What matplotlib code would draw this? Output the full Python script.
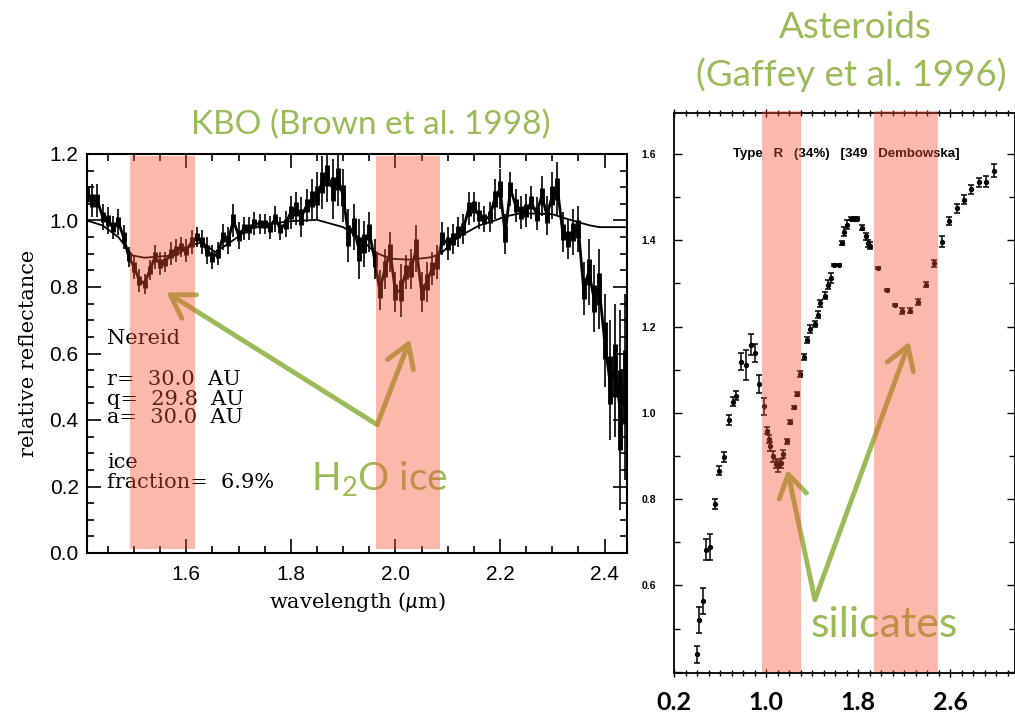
import numpy as np
import matplotlib.pyplot as plt
from matplotlib.ticker import MultipleLocator
from matplotlib.patches import Rectangle

plt.rcParams['mathtext.fontset'] = 'custom'
plt.rcParams['mathtext.rm'] = 'Lato'
plt.rcParams['mathtext.it'] = 'Lato:italic'

W, H = 1015, 715
GREEN = '#9bbb59'
BAND = '#f5502f'

# --- KBO spectrum (Nereid) ---
wl = np.round(np.arange(1.41, 2.445, 0.01), 2)  # uniform wavelength grid
refl = [1.08, 1.06, 1.06, 1.01, 1.00, 0.98, 0.995, 0.95, 0.89, 0.86,
        0.82, 0.81, 0.85, 0.89, 0.87, 0.875, 0.90, 0.91, 0.92, 0.91,
        0.935, 0.95, 0.935, 0.91, 0.89, 0.90, 0.95, 0.94, 1.00, 0.955,
        0.975, 0.975, 0.99, 0.99, 0.99, 0.98, 1.005, 0.975, 0.99, 1.025,
        1.035, 1.01, 1.045, 1.065, 1.075, 1.115, 1.135, 1.095, 1.125, 1.075,
        0.955, 0.98, 0.915, 0.93, 0.965, 0.885, 0.79, 0.855, 0.905, 0.785,
        0.79, 0.845, 0.855, 0.915, 0.785, 0.815, 0.855, 0.875, 0.945, 0.93,
        0.945, 0.965, 0.975, 1.035, 1.04, 1.015, 1.005, 1.01, 1.065, 1.095,
        0.96, 1.095, 1.045, 1.025, 1.03, 1.055, 1.02, 1.075, 1.015, 1.075,
        1.095, 0.965, 0.945, 0.965, 0.975, 0.795, 0.845, 0.765, 0.795, 0.64,
        0.52, 0.55, 0.43, 0.50]
refl_err = [0.06, 0.05, 0.05, 0.04, 0.04, 0.035, 0.04, 0.035, 0.03, 0.035,
            0.035, 0.03, 0.03, 0.035, 0.035, 0.03, 0.035, 0.035, 0.03, 0.035,
            0.035, 0.03, 0.035, 0.04, 0.035, 0.035, 0.04, 0.04, 0.05, 0.04,
            0.035, 0.035, 0.035, 0.03, 0.03, 0.035, 0.04, 0.035, 0.04, 0.05,
            0.05, 0.06, 0.05, 0.06, 0.07, 0.08, 0.08, 0.09, 0.08, 0.08,
            0.08, 0.07, 0.09, 0.07, 0.06, 0.06, 0.06, 0.06, 0.06, 0.06,
            0.08, 0.05, 0.06, 0.07, 0.06, 0.06, 0.05, 0.05, 0.05, 0.05,
            0.045, 0.045, 0.045, 0.05, 0.045, 0.04, 0.04, 0.045, 0.06, 0.06,
            0.06, 0.05, 0.05, 0.05, 0.05, 0.05, 0.05, 0.06, 0.06, 0.07,
            0.08, 0.06, 0.06, 0.07, 0.07, 0.08, 0.10, 0.10, 0.12, 0.14,
            0.18, 0.20, 0.30, 0.28]

# model fit curve
model_wl = [1.41, 1.44, 1.47, 1.497, 1.52, 1.55, 1.58, 1.61, 1.63, 1.655,
            1.68, 1.72, 1.76, 1.80, 1.85, 1.90, 1.93, 1.96, 1.99, 2.03,
            2.07, 2.09, 2.12, 2.16, 2.19, 2.21, 2.24, 2.30, 2.33, 2.37,
            2.39, 2.443]
model_refl = [1.000, 0.985, 0.950, 0.895, 0.888, 0.892, 0.895, 0.925, 0.935, 0.905,
              0.930, 0.975, 0.990, 0.998, 1.002, 0.980, 0.950, 0.905, 0.885, 0.882,
              0.890, 0.905, 0.950, 0.985, 1.000, 1.012, 1.022, 1.019, 1.004, 0.986,
              0.980, 0.980]

kbo_bands = [(1.493, 1.616), (1.962, 2.085)]

# --- asteroid 349 Dembowska ---
ast_wl = [0.40, 0.417, 0.451, 0.48, 0.511, 0.557, 0.594, 0.631, 0.68, 0.714,
          0.742, 0.785, 0.828, 0.871, 0.90, 0.943, 0.986, 1.008, 1.023, 1.037,
          1.065, 1.089, 1.108, 1.128, 1.151, 1.18, 1.208, 1.243, 1.271, 1.294,
          1.328, 1.357, 1.385, 1.423, 1.451, 1.471, 1.509, 1.537, 1.566, 1.594,
          1.637, 1.66, 1.68, 1.708, 1.737, 1.765, 1.795, 1.837, 1.866, 1.888,
          1.908, 1.974, 2.051, 2.122, 2.185, 2.25, 2.322, 2.388, 2.46, 2.528,
          2.593, 2.659, 2.722, 2.785, 2.85, 2.916, 2.979]
ast_refl = [0.44, 0.52, 0.563, 0.683, 0.69, 0.788, 0.866, 0.897, 0.984, 1.026,
            1.04, 1.119, 1.111, 1.158, 1.139, 1.067, 1.015, 0.959, 0.939, 0.922,
            0.899, 0.882, 0.876, 0.883, 0.905, 0.934, 0.978, 1.013, 1.044, 1.09,
            1.129, 1.169, 1.194, 1.206, 1.227, 1.254, 1.271, 1.297, 1.312, 1.343,
            1.343, 1.393, 1.42, 1.436, 1.45, 1.45, 1.45, 1.429, 1.409, 1.393,
            1.387, 1.336, 1.284, 1.25, 1.236, 1.237, 1.257, 1.297, 1.347, 1.397,
            1.445, 1.474, 1.494, 1.518, 1.534, 1.536, 1.561]
ast_err = [0.02, 0.03, 0.03, 0.025, 0.03, 0.012, 0.01, 0.012, 0.012, 0.01,
           0.01, 0.02, 0.035, 0.025, 0.02, 0.02, 0.02, 0.008, 0.01, 0.01,
           0.012, 0.01, 0.012, 0.01, 0.01, 0.006, 0.005, 0.004, 0.005, 0.006,
           0.007, 0.007, 0.01, 0.008, 0.008, 0.008, 0.008, 0.01, 0.012, 0.003,
           0.003, 0.005, 0.01, 0.01, 0.004, 0.004, 0.004, 0.006, 0.008, 0.008,
           0.008, 0.002, 0.002, 0.003, 0.008, 0.006, 0.006, 0.006, 0.008, 0.012,
           0.01, 0.01, 0.01, 0.01, 0.01, 0.012, 0.015]

ast_bands = [(0.963, 1.305), (1.94, 2.497)]
ast_xticks = [0.2, 1.0, 1.8, 2.6]

fig = plt.figure(figsize=(W / 100, H / 100), dpi=100)

# ---------------- left panel ----------------
ax1 = fig.add_axes([87 / W, 1 - 553 / H, 540 / W, 399 / H])
ax1.errorbar(wl, refl, yerr=refl_err, fmt='none', ecolor='k', elinewidth=1.2, capsize=0)
ax1.errorbar(wl, refl, yerr=np.array(refl_err) * 0.4, fmt='none', ecolor='k', elinewidth=3.5, capsize=0)
ax1.plot(wl, refl, color='k', lw=2.0)
ax1.plot(model_wl, model_refl, color='k', lw=1.3)
ax1.set_xlim(1.41, 2.443)
ax1.set_ylim(0, 1.2)
ax1.xaxis.set_major_locator(MultipleLocator(0.2))
ax1.xaxis.set_minor_locator(MultipleLocator(0.05))
ax1.yaxis.set_major_locator(MultipleLocator(0.2))
ax1.yaxis.set_minor_locator(MultipleLocator(0.05))
ax1.tick_params(which='both', direction='in', top=True, right=True, width=1.2)
ax1.tick_params(which='major', length=10, labelsize=15, pad=9)
ax1.tick_params(which='minor', length=5)
for lab in ax1.get_xticklabels() + ax1.get_yticklabels():
    lab.set_family('Liberation Sans')
ax1.tick_params(axis='y', pad=6)
for s in ax1.spines.values():
    s.set_linewidth(1.5)
ax1.set_xlabel(r'wavelength ($\mu$m)', family='DejaVu Serif', fontsize=15, labelpad=4)
ax1.set_ylabel('relative reflectance', family='DejaVu Serif', fontsize=15, labelpad=8)

info = [('Nereid', 0.645), ('r=  30.0  AU', 0.522), ('q=  29.8  AU', 0.463),
        ('a=  30.0  AU', 0.408), ('ice', 0.272), ('fraction=  6.9%', 0.212)]
for txt, yy in info:
    ax1.text(1.449, yy, txt, family='DejaVu Serif', fontsize=15, va='center', ha='left')

# H2O ice arrows
arrow_kw = dict(arrowstyle='->,head_length=0.8,head_width=0.5', color=GREEN, lw=3.5,
                mutation_scale=20, shrinkA=0, shrinkB=0)
ax1.annotate('', xy=(1.562, 0.784), xytext=(1.965, 0.386), arrowprops=arrow_kw)
ax1.annotate('', xy=(2.028, 0.642), xytext=(1.965, 0.386), arrowprops=arrow_kw)
ax1.text(1.838, 0.19, r'H$_{2}$O ice', color=GREEN, fontsize=28, family='Lato',
         ha='left', va='baseline')

for x0, x1 in kbo_bands:
    ax1.add_patch(Rectangle((x0, 0.012), x1 - x0, 1.182, facecolor=BAND, alpha=0.4,
                            edgecolor='none', zorder=10))

# ---------------- right panel ----------------
ax2 = fig.add_axes([674 / W, 1 - 673 / H, 341 / W, 560 / H])
ax2.errorbar(ast_wl, ast_refl, yerr=ast_err, fmt='o', ms=2.8, color='k', ecolor='k',
             elinewidth=1.1, capsize=2.5, capthick=1.1)
ax2.set_xlim(0.243, 3.165)
ax2.set_ylim(0.397, 1.695)
ax2.set_xticks(ast_xticks)
ax2.set_xticklabels([f'{v:.1f}' for v in ast_xticks], family='Lato', fontweight='bold', fontsize=18)
ax2.xaxis.set_minor_locator(MultipleLocator(0.1))
ax2.set_yticks([0.4, 0.6, 0.8, 1.0, 1.2, 1.4, 1.6])
ax2.set_yticklabels(['', '0.6', '0.8', '1.0', '1.2', '1.4', '1.6'],
                    family='Liberation Sans', fontweight='bold', fontsize=7.5)
ax2.yaxis.set_minor_locator(MultipleLocator(0.1))
ax2.tick_params(which='both', direction='in', top=True, right=True, width=1.0)
ax2.tick_params(axis='x', which='both', direction='inout')
ax2.tick_params(which='major', length=6)
ax2.tick_params(which='minor', length=4)
ax2.tick_params(axis='x', pad=10)
ax2.tick_params(axis='y', pad=13)
for s in ax2.spines.values():
    s.set_linewidth(1.3)
ax2.text(0.715, 1.6, 'Type   R   (34%)   [349   Dembowska]', fontsize=9.5, fontweight='bold',
         family='Liberation Sans', ha='left', va='center')

ax2.annotate('', xy=(1.185, 0.868), xytext=(1.425, 0.567), arrowprops=arrow_kw)
ax2.annotate('', xy=(2.248, 1.165), xytext=(1.425, 0.567), arrowprops=arrow_kw)
ax2.text(1.385, 0.48, 'silicates', color=GREEN, fontsize=31, family='Lato',
         ha='left', va='baseline')

for x0, x1 in ast_bands:
    ax2.add_patch(Rectangle((x0, 0.4), x1 - x0, 1.3, facecolor=BAND, alpha=0.4,
                            edgecolor='none', zorder=10, clip_on=False))

# titles
fig.text(371 / W, 1 - 125 / H, 'KBO (Brown et al. 1998)', color=GREEN, fontsize=24,
         family='Lato', ha='center', va='center')
fig.text(855 / W, 1 - 27 / H, 'Asteroids', color=GREEN, fontsize=26.5,
         family='Lato', ha='center', va='center')
fig.text(851 / W, 1 - 75 / H, '(Gaffey et al. 1996)', color=GREEN, fontsize=26.5,
         family='Lato', ha='center', va='center')

fig.savefig('out.png', dpi=100)
